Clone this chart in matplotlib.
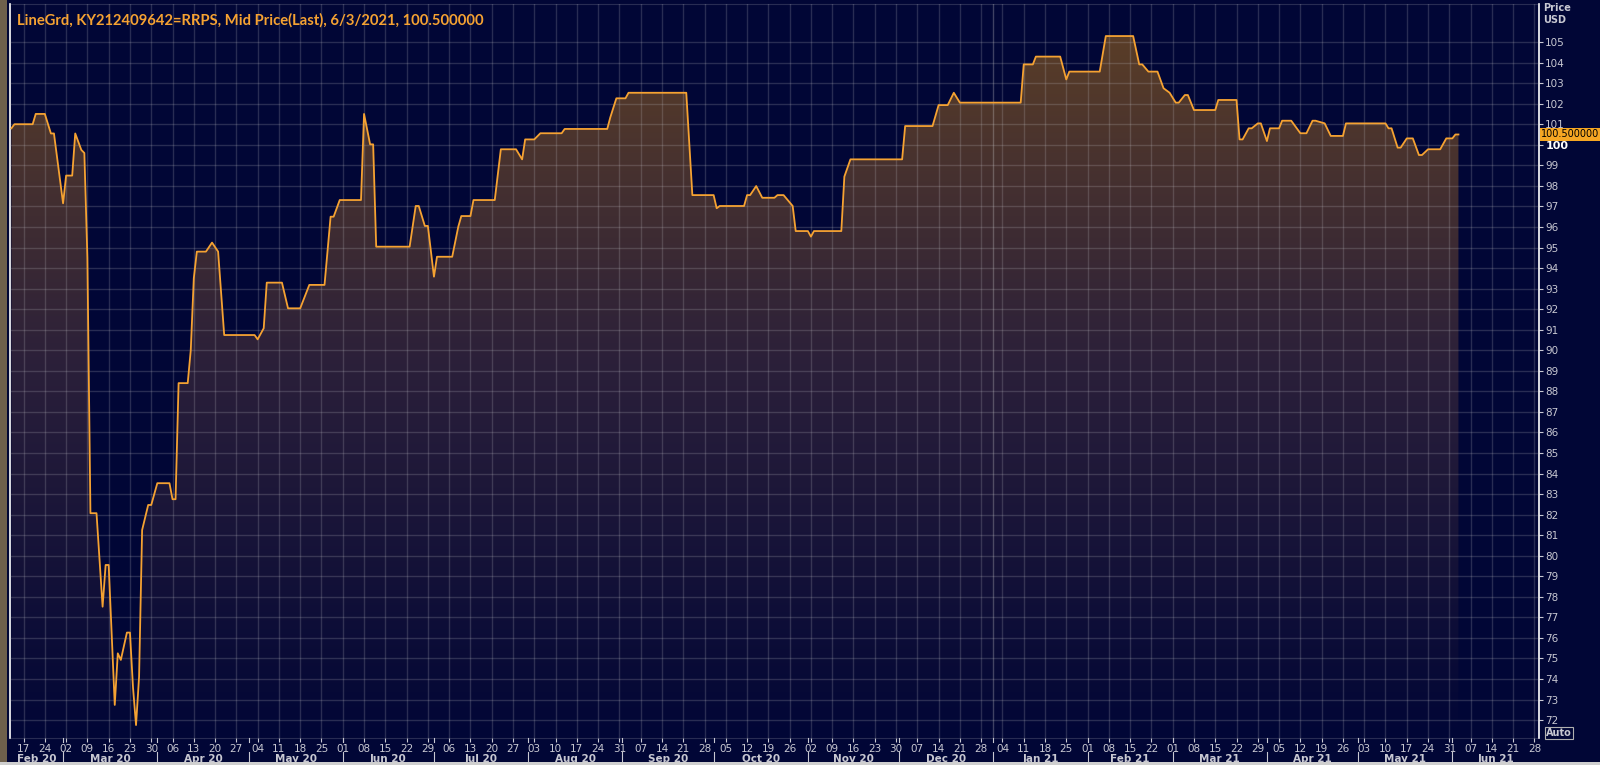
import numpy as np
import matplotlib
matplotlib.use("Agg")
from matplotlib import pyplot as plt
import matplotlib.dates as mdates
import matplotlib.transforms as mtransforms
from matplotlib.colors import LinearSegmentedColormap
from matplotlib.patches import Rectangle
import datetime as dt

# price history
dates = [
    "2020-02-13", "2020-02-14", "2020-02-20", "2020-02-21", "2020-02-24", "2020-02-26", "2020-02-27",
    "2020-03-01", "2020-03-02", "2020-03-04", "2020-03-05", "2020-03-07", "2020-03-08", "2020-03-09",
    "2020-03-10", "2020-03-12", "2020-03-13", "2020-03-14", "2020-03-15", "2020-03-16", "2020-03-17",
    "2020-03-18", "2020-03-19", "2020-03-20", "2020-03-22", "2020-03-23", "2020-03-24", "2020-03-25",
    "2020-03-26", "2020-03-27", "2020-03-29", "2020-03-30", "2020-04-01", "2020-04-05", "2020-04-06",
    "2020-04-07", "2020-04-08", "2020-04-11", "2020-04-12", "2020-04-13", "2020-04-14", "2020-04-17",
    "2020-04-19", "2020-04-21", "2020-04-23", "2020-05-03", "2020-05-04", "2020-05-06", "2020-05-07",
    "2020-05-12", "2020-05-14", "2020-05-18", "2020-05-21", "2020-05-26", "2020-05-28", "2020-05-29",
    "2020-05-31", "2020-06-07", "2020-06-08", "2020-06-10", "2020-06-11", "2020-06-12", "2020-06-23",
    "2020-06-25", "2020-06-26", "2020-06-28", "2020-06-29", "2020-07-01", "2020-07-02", "2020-07-07",
    "2020-07-09", "2020-07-10", "2020-07-13", "2020-07-14", "2020-07-21", "2020-07-23", "2020-07-28",
    "2020-07-30", "2020-07-31", "2020-08-03", "2020-08-05", "2020-08-12", "2020-08-13", "2020-08-27",
    "2020-08-28", "2020-08-30", "2020-09-02", "2020-09-03", "2020-09-22", "2020-09-24", "2020-10-01",
    "2020-10-02", "2020-10-03", "2020-10-11", "2020-10-12", "2020-10-13", "2020-10-15", "2020-10-17",
    "2020-10-21", "2020-10-22", "2020-10-24", "2020-10-27", "2020-10-28", "2020-11-01", "2020-11-02",
    "2020-11-03", "2020-11-12", "2020-11-13", "2020-11-15", "2020-12-02", "2020-12-03", "2020-12-12",
    "2020-12-14", "2020-12-17", "2020-12-19", "2020-12-21", "2021-01-10", "2021-01-11", "2021-01-14",
    "2021-01-15", "2021-01-23", "2021-01-25", "2021-01-26", "2021-02-05", "2021-02-07", "2021-02-16",
    "2021-02-18", "2021-02-19", "2021-02-21", "2021-02-24", "2021-02-26", "2021-02-28", "2021-03-02",
    "2021-03-03", "2021-03-05", "2021-03-06", "2021-03-08", "2021-03-15", "2021-03-16", "2021-03-22",
    "2021-03-23", "2021-03-24", "2021-03-26", "2021-03-27", "2021-03-29", "2021-03-30", "2021-04-01",
    "2021-04-02", "2021-04-05", "2021-04-06", "2021-04-09", "2021-04-12", "2021-04-14", "2021-04-16",
    "2021-04-17", "2021-04-20", "2021-04-22", "2021-04-26", "2021-04-27", "2021-05-10", "2021-05-11",
    "2021-05-12", "2021-05-14", "2021-05-15", "2021-05-17", "2021-05-19", "2021-05-21", "2021-05-22",
    "2021-05-24", "2021-05-28", "2021-05-30", "2021-06-01", "2021-06-02", "2021-06-03",
]
prices = [
    100.8, 101.0, 101.0, 101.5, 101.5, 100.55, 100.55,
    97.15, 98.5, 98.5, 100.55, 99.75, 99.6, 94.5,
    82.07, 82.07, 79.8, 77.52, 79.55, 79.55, 76.2,
    72.74, 75.25, 74.93, 76.26, 76.26, 73.6, 71.76,
    74.11, 81.25, 82.47, 82.47, 83.53, 83.53, 82.75,
    82.75, 88.4, 88.4, 90.0, 93.5, 94.8, 94.8,
    95.24, 94.8, 90.74, 90.74, 90.53, 91.07, 93.29,
    93.29, 92.04, 92.04, 93.18, 93.18, 96.5, 96.5,
    97.31, 97.31, 101.5, 100.02, 100.02, 95.04, 95.04,
    97.02, 97.02, 96.05, 96.05, 93.58, 94.55, 94.55,
    96.01, 96.53, 96.53, 97.31, 97.31, 99.78, 99.78,
    99.29, 100.26, 100.26, 100.56, 100.56, 100.77, 100.77,
    101.33, 102.26, 102.26, 102.53, 102.53, 97.55, 97.55,
    96.91, 97.02, 97.02, 97.55, 97.55, 97.99, 97.42,
    97.42, 97.55, 97.55, 97.02, 95.8, 95.8, 95.53,
    95.8, 95.8, 98.45, 99.29, 99.29, 100.91, 100.91,
    101.93, 101.93, 102.53, 102.05, 102.05, 103.91, 103.91,
    104.29, 104.29, 103.18, 103.56, 103.56, 105.29, 105.29,
    103.91, 103.91, 103.56, 103.56, 102.75, 102.53, 102.05,
    102.05, 102.42, 102.42, 101.69, 101.69, 102.18, 102.18,
    100.26, 100.26, 100.8, 100.8, 101.04, 101.04, 100.18,
    100.8, 100.8, 101.17, 101.17, 100.56, 100.56, 101.17,
    101.17, 101.04, 100.43, 100.43, 101.04, 101.04, 100.8,
    100.8, 99.86, 99.86, 100.31, 100.31, 99.5, 99.5,
    99.78, 99.78, 100.31, 100.31, 100.5, 100.5,
]
title = "LineGrd, KY212409642=RRPS, Mid Price(Last), 6/3/2021, 100.500000"
last_label = "100.500000"
y_ticks = list(range(72, 106))

navy = "#010636"
orange = "#f5a232"
grid_col = (0.78, 0.78, 0.8, 0.2)
text_col = "#c8c8d2"

x = mdates.date2num([dt.datetime.strptime(d, "%Y-%m-%d") for d in dates])
x0 = mdates.date2num(dt.datetime(2020, 2, 12, 13))
x1 = mdates.date2num(dt.datetime(2021, 6, 29, 12))
y0, y1 = 71.13, 106.85

fig = plt.figure(figsize=(16, 7.65), dpi=100, facecolor=navy)
ax = fig.add_axes([10 / 1600, 1 - 738 / 765, 1529 / 1600, 734 / 765])
ax.set_facecolor(navy)
ax.set_xlim(x0, x1)
ax.set_ylim(y0, y1)

# gradient fill under the line
cmap = LinearSegmentedColormap.from_list("fade", [navy, "#2a1f3a", "#5e4026"])
poly = ax.fill_between(x, prices, y0, color="none", lw=0)
grad = np.linspace(1, 0, 256).reshape(-1, 1)
im = ax.imshow(grad, extent=[x0, x1, y0, y1], aspect="auto", cmap=cmap, origin="upper", zorder=1)
im.set_clip_path(poly.get_paths()[0], transform=ax.transData)

ax.plot(x, prices, color=orange, lw=1.3, zorder=4)

# grid: every integer price, every Monday
for v in y_ticks:
    ax.axhline(v, color=grid_col, lw=1, zorder=3)
mondays = mdates.drange(dt.datetime(2020, 2, 17), dt.datetime(2021, 7, 1), dt.timedelta(days=7))
for m in mondays:
    ax.axvline(m, color=grid_col, lw=1, zorder=3)
ax.axvline(mdates.date2num(dt.datetime(2021, 1, 1)), color=(0.8, 0.8, 0.8, 0.3), lw=1, zorder=3)

# x axis: day numbers + month row
ax.set_xticks(mondays)
ax.xaxis.set_major_formatter(mdates.DateFormatter("%d"))
ax.tick_params(axis="x", length=3, pad=1.5, labelsize=7.5, colors=text_col)
months = [dt.datetime(2020 + (1 + i) // 12, (1 + i) % 12 + 1, 1) for i in range(18)]
trans = mtransforms.blended_transform_factory(ax.transData, ax.transAxes)
for a, b in zip(months[:-1], months[1:]):
    ma, mb = max(mdates.date2num(a), x0), min(mdates.date2num(b), x1)
    ax.text((ma + mb) / 2, -0.029, a.strftime("%b %y"), transform=trans, ha="center", va="center",
            fontsize=7.5, fontweight="bold", color=text_col, clip_on=False)
for a in months[1:-1]:
    ax.plot([mdates.date2num(a)] * 2, [-0.019, -0.037], transform=trans, color=text_col, lw=0.8, clip_on=False)
    ax.plot([mdates.date2num(a)] * 2, [0, -0.006], transform=trans, color=text_col, lw=0.8, clip_on=False)

# y axis on the right
ax.yaxis.tick_right()
ax.set_yticks(y_ticks)
ax.set_yticklabels([str(v) for v in y_ticks])
ax.tick_params(axis="y", length=3, pad=1.5, labelsize=7.5, colors=text_col)
for lab in ax.get_yticklabels():
    if lab.get_text() == "100":
        lab.set_fontweight("bold")
        lab.set_color("white")
        lab.set_fontsize(8)

for s in ["left", "right"]:
    ax.spines[s].set_color("white")
    ax.spines[s].set_linewidth(1.2)
for s in ["top", "bottom"]:
    ax.spines[s].set_color(grid_col)

ytrans = mtransforms.blended_transform_factory(ax.transAxes, ax.transData)
ax.text(1.0012, 100.5, last_label, transform=ytrans, ha="left", va="center", fontsize=7, color="black",
        bbox=dict(boxstyle="square,pad=0.12", fc="#f5a623", ec="none"), zorder=6, clip_on=False)

ax.text(0.0045, 0.988, title, transform=ax.transAxes, ha="left", va="top", fontsize=10.6,
        fontfamily=["Lato", "DejaVu Sans"], fontweight="bold", color=orange, zorder=6)

fig.text(1543 / 1600, 1 - 8 / 765, "Price", ha="left", va="center", fontsize=7, fontweight="bold", color=text_col)
fig.text(1543 / 1600, 1 - 20 / 765, "USD", ha="left", va="center", fontsize=7, fontweight="bold", color=text_col)
fig.text(1546 / 1600, 1 - 733 / 765, "Auto", ha="left", va="center", fontsize=7, fontweight="bold", color=text_col,
         bbox=dict(boxstyle="square,pad=0.1", fc="none", ec="#b0b0b0", lw=0.8))

# window frame bits
fig.patches.append(Rectangle((0, 0), 7 / 1600, 1, transform=fig.transFigure, fc="#6e604c", ec="none"))
fig.patches.append(Rectangle((0, 0), 1, 3 / 765, transform=fig.transFigure, fc="#cfcfcf", ec="none"))

fig.savefig("out.png", dpi=100, facecolor=navy)
